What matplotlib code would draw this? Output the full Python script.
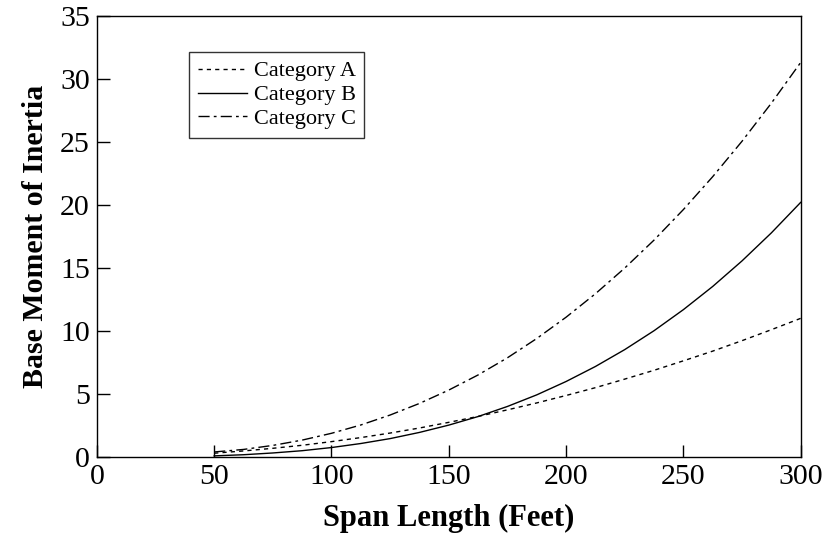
import matplotlib
matplotlib.use("Agg")
from matplotlib import pyplot as plt

plt.rcParams["font.family"] = ["Liberation Serif", "DejaVu Serif"]

span = [50, 62.5, 75, 87.5, 100, 112.5, 125, 137.5, 150, 162.5, 175,
        187.5, 200, 212.5, 225, 237.5, 250, 262.5, 275, 287.5, 300]
cat_a = [0.3, 0.48, 0.69, 0.93, 1.22, 1.54, 1.9, 2.3, 2.75, 3.22, 3.74,
         4.29, 4.88, 5.5, 6.18, 6.88, 7.63, 8.4, 9.23, 10.1, 11.0]
cat_b = [0.09, 0.18, 0.32, 0.5, 0.75, 1.07, 1.46, 1.95, 2.53, 3.21, 4.01,
         4.93, 5.99, 7.18, 8.52, 10.02, 11.69, 13.53, 15.56, 17.78, 20.2]
cat_c = [0.4, 0.6, 0.92, 1.34, 1.88, 2.54, 3.33, 4.25, 5.31, 6.51, 7.87,
         9.4, 11.09, 12.95, 14.99, 17.21, 19.63, 22.24, 25.05, 28.07, 31.3]

fig = plt.figure(figsize=(8.28, 5.46), dpi=100)
ax = fig.add_axes([0.117, 0.163, 0.85, 0.808])

ax.plot(span, cat_a, color="black", lw=1.0, linestyle=(0, (3, 3)), label="Category A")
ax.plot(span, cat_b, color="black", lw=1.0, linestyle="-", label="Category B")
ax.plot(span, cat_c, color="black", lw=1.0, linestyle=(0, (8, 3, 2, 3)), label="Category C")

ax.set_xlim(0, 300)
ax.set_ylim(0, 35)
ax.set_xticks(range(0, 301, 50))
ax.set_yticks(range(0, 36, 5))
ax.tick_params(direction="in", length=9, width=1, labelsize=21.5, pad=5)
for sp in ax.spines.values():
    sp.set_linewidth(1.0)
    sp.set_color("black")

ax.set_xlabel("Span Length (Feet)", fontsize=22, fontweight="bold", labelpad=10)
ax.set_ylabel("Base Moment of Inertia", fontsize=21.5, fontweight="bold", labelpad=8)

leg = ax.legend(loc="upper left", bbox_to_anchor=(0.131, 0.918), borderaxespad=0,
                fontsize=16, frameon=True, fancybox=False, edgecolor="black",
                handlelength=2.2, handletextpad=0.3, borderpad=0.4, labelspacing=0.15)
leg.get_frame().set_linewidth(1.0)

fig.savefig("out.png", dpi=100)
